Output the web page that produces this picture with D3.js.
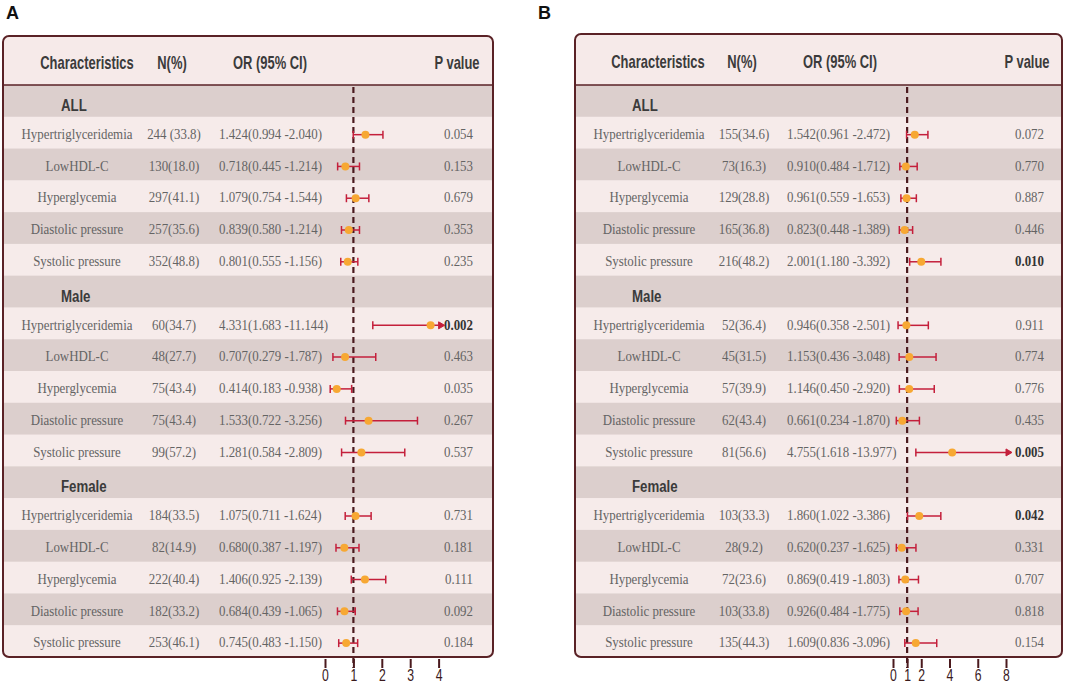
<!DOCTYPE html>
<html>
<head>
<meta charset="utf-8">
<title>Forest plots A and B</title>
<script src="https://cdn.jsdelivr.net/npm/d3@7"></script>
<style>
  body { margin: 0; background: #fff; }
  .hdr, .grp, .tick text, .panel-tag {
    font-family: "Liberation Sans", Arial, sans-serif;
    font-weight: bold;
  }
  .hdr { font-size: 17.5px; fill: #3b3b3b; }
  .grp { font-size: 17px; fill: #3b3b3b; }
  .cell { font-family: "Liberation Serif", "DejaVu Serif", serif; font-size: 15px; fill: #646464; }
  .cell.sig { font-weight: bold; fill: #333; }
  .panel-tag { font-size: 18px; fill: #111; }
  .tick text { font-size: 17px; font-weight: normal; fill: #3a1a1c; }
</style>
</head>
<body>
<svg id="chart" width="1065" height="683"></svg>
<script>
// shared row structure
var groups = ['ALL', 'Male', 'Female'];
var items = ['Hypertriglyceridemia', 'LowHDL-C', 'Hyperglycemia', 'Diastolic pressure', 'Systolic pressure'];
var headers = ['Characteristics', 'N(%)', 'OR (95% CI)', 'P value'];

// panel A
var nA = ['244 (33.8)', '130(18.0)', '297(41.1)', '257(35.6)', '352(48.8)',
          '60(34.7)', '48(27.7)', '75(43.4)', '75(43.4)', '99(57.2)',
          '184(33.5)', '82(14.9)', '222(40.4)', '182(33.2)', '253(46.1)'];
var orA = [1.424, 0.718, 1.079, 0.839, 0.801, 4.331, 0.707, 0.414, 1.533, 1.281, 1.075, 0.680, 1.406, 0.684, 0.745];
var loA = [0.994, 0.445, 0.754, 0.580, 0.555, 1.683, 0.279, 0.183, 0.722, 0.584, 0.711, 0.387, 0.925, 0.439, 0.483];
var hiA = [2.040, 1.214, 1.544, 1.214, 1.156, 11.144, 1.787, 0.938, 3.256, 2.809, 1.624, 1.197, 2.139, 1.065, 1.150];
var pA = ['0.054', '0.153', '0.679', '0.353', '0.235', '0.002', '0.463', '0.035', '0.267', '0.537',
          '0.731', '0.181', '0.111', '0.092', '0.184'];
var boldA = [5];
var ticksA = [0, 1, 2, 3, 4];

// panel B
var nB = ['155(34.6)', '73(16.3)', '129(28.8)', '165(36.8)', '216(48.2)',
          '52(36.4)', '45(31.5)', '57(39.9)', '62(43.4)', '81(56.6)',
          '103(33.3)', '28(9.2)', '72(23.6)', '103(33.8)', '135(44.3)'];
var orB = [1.542, 0.910, 0.961, 0.823, 2.001, 0.946, 1.153, 1.146, 0.661, 4.755, 1.860, 0.620, 0.869, 0.926, 1.609];
var loB = [0.961, 0.484, 0.559, 0.448, 1.180, 0.358, 0.436, 0.450, 0.234, 1.618, 1.022, 0.237, 0.419, 0.484, 0.836];
var hiB = [2.472, 1.712, 1.653, 1.389, 3.392, 2.501, 3.048, 2.920, 1.870, 13.977, 3.386, 1.625, 1.803, 1.775, 3.096];
var pB = ['0.072', '0.770', '0.887', '0.446', '0.010', '0.911', '0.774', '0.776', '0.435', '0.005',
          '0.042', '0.331', '0.707', '0.818', '0.154'];
var boldB = [4, 9, 10];
var ticksB = [0, 1, 2, 4, 6, 8];

var svg = d3.select('#chart');

var colors = {
	border: '#5a2226',
	header: '#f6eae9',
	light: '#f6ebea',
	dark: '#dccfcd',
	ci: '#c41f3b',
	dot: '#f7a833',
	ref: '#4a1a1e'
};

function fmt(v) { return v.toFixed(3); }

// narrow the fonts horizontally, the original uses condensed faces
function squeeze(sel, x, y, sx) {
	sel.attr('x', 0).attr('y', 0)
		.attr('transform', function(d, i) {
			var xx = typeof x === 'function' ? x(d, i) : x;
			return 'translate(' + xx + ',' + y + ') scale(' + sx + ',1)';
		});
}

function drawPanel(p) {
	var g = svg.append('g');

	// rows: group heading followed by its five items
	var rows = [];
	var k = 0;
	groups.forEach(function(grp) {
		rows.push({ type: 'group', label: grp });
		items.forEach(function(it) {
			rows.push({
				type: 'item', label: it, n: p.n[k], or: p.or[k], lo: p.lo[k], hi: p.hi[k],
				p: p.p[k], sig: p.bold.indexOf(k) >= 0
			});
			k++;
		});
	});

	var y = d3.scaleBand().domain(d3.range(rows.length)).range([p.headBottom, p.bottom]);
	var x = d3.scaleLinear().domain(p.domain).range(p.range);

	var clipId = 'clip-' + p.tag;
	g.append('clipPath').attr('id', clipId)
		.append('rect')
		.attr('x', p.left).attr('y', p.top)
		.attr('width', p.right - p.left).attr('height', p.bottom - p.top)
		.attr('rx', 6);

	var bg = g.append('g').attr('clip-path', 'url(#' + clipId + ')');
	bg.append('rect')
		.attr('x', p.left).attr('y', p.top)
		.attr('width', p.right - p.left).attr('height', p.headBottom - p.top)
		.attr('fill', colors.header);
	bg.selectAll('rect.row')
		.data(rows)
		.enter()
		.append('rect')
		.attr('class', 'row')
		.attr('x', p.left)
		.attr('y', function(d, i) { return y(i); })
		.attr('width', p.right - p.left)
		.attr('height', y.bandwidth() + 0.5)
		.attr('fill', function(d, i) { return i % 2 === 0 ? colors.dark : colors.light; });

	// header
	g.selectAll('text.hdr')
		.data(headers)
		.enter()
		.append('text')
		.attr('class', 'hdr')
		.attr('dy', '0.35em')
		.attr('text-anchor', 'middle')
		.text(function(d) { return d; })
		.call(squeeze, function(d, i) { return p.headX[i]; }, (p.top + p.headBottom) / 2 + 2, 0.74);

	g.append('line')
		.attr('x1', p.left).attr('x2', p.right)
		.attr('y1', p.headBottom).attr('y2', p.headBottom)
		.attr('stroke', colors.border).attr('stroke-width', 1.5);

	// reference line at OR = 1
	g.append('line')
		.attr('x1', x(1)).attr('x2', x(1))
		.attr('y1', p.headBottom + 2).attr('y2', p.axisY + 9)
		.attr('stroke', colors.ref).attr('stroke-width', 2.2)
		.attr('stroke-dasharray', '6,4');

	var rowG = g.selectAll('g.r')
		.data(rows)
		.enter()
		.append('g')
		.attr('class', 'r')
		.attr('transform', function(d, i) { return 'translate(0,' + (y(i) + y.bandwidth() / 2) + ')'; });

	rowG.filter(function(d) { return d.type === 'group'; })
		.append('text')
		.attr('class', 'grp')
		.attr('dy', '0.35em')
		.text(function(d) { return d.label; })
		.call(squeeze, p.groupX, 4, 0.78);

	var it = rowG.filter(function(d) { return d.type === 'item'; });

	it.append('text')
		.attr('class', 'cell')
		.attr('dy', '0.35em')
		.attr('text-anchor', 'middle')
		.text(function(d) { return d.label; })
		.call(squeeze, p.colX[0], 1, 0.86);
	it.append('text')
		.attr('class', 'cell')
		.attr('dy', '0.35em')
		.attr('text-anchor', 'middle')
		.text(function(d) { return d.n; })
		.call(squeeze, p.colX[1], 1, 0.86);
	it.append('text')
		.attr('class', 'cell')
		.attr('dy', '0.35em')
		.text(function(d) { return fmt(d.or) + '(' + fmt(d.lo) + ' -' + fmt(d.hi) + ')'; })
		.call(squeeze, p.colX[2], 1, 0.86);
	it.append('text')
		.attr('class', function(d) { return d.sig ? 'cell sig' : 'cell'; })
		.attr('dy', '0.35em')
		.attr('text-anchor', 'end')
		.text(function(d) { return d.p; })
		.call(squeeze, p.colX[3], 1, 0.86);

	// confidence intervals, clamped at the end of the axis
	var cx = x.copy().clamp(true);
	var over = function(d) { return d.hi > p.domain[1]; };

	it.append('line')
		.attr('x1', function(d) { return cx(d.lo); })
		.attr('x2', function(d) { return cx(d.hi); })
		.attr('y1', 2).attr('y2', 2)
		.attr('stroke', colors.ci).attr('stroke-width', 1.5);
	it.append('line')
		.attr('x1', function(d) { return cx(d.lo); })
		.attr('x2', function(d) { return cx(d.lo); })
		.attr('y1', -2).attr('y2', 6)
		.attr('stroke', colors.ci).attr('stroke-width', 1.5);
	it.filter(function(d) { return !over(d); })
		.append('line')
		.attr('x1', function(d) { return cx(d.hi); })
		.attr('x2', function(d) { return cx(d.hi); })
		.attr('y1', -2).attr('y2', 6)
		.attr('stroke', colors.ci).attr('stroke-width', 1.5);
	it.filter(over)
		.append('path')
		.attr('d', function(d) {
			var e = cx(d.hi) + 6;
			return 'M' + (e - 6) + ',-1.5L' + e + ',2L' + (e - 6) + ',5.5Z';
		})
		.attr('fill', colors.ci)
		.attr('stroke', colors.ci).attr('stroke-width', 1);

	it.append('circle')
		.attr('cx', function(d) { return over(d) ? cx(d.or) - 8 : cx(d.or); })
		.attr('cy', 2)
		.attr('r', 4)
		.attr('fill', colors.dot);

	// outline
	g.append('rect')
		.attr('x', p.left).attr('y', p.top)
		.attr('width', p.right - p.left).attr('height', p.bottom - p.top)
		.attr('rx', 6)
		.attr('fill', 'none')
		.attr('stroke', colors.border).attr('stroke-width', 2);

	// axis
	var axis = d3.axisBottom(x).tickValues(p.ticks).tickSize(9).tickPadding(1).tickFormat(d3.format('d'));
	var ax = g.append('g')
		.attr('transform', 'translate(0,' + p.axisY + ')')
		.call(axis);
	ax.select('.domain').remove();
	ax.selectAll('.tick line').attr('stroke', colors.ref).attr('stroke-width', 2);
	ax.selectAll('.tick text')
		.attr('dy', null)
		.each(function() {
			d3.select(this).attr('transform', 'translate(0,22) scale(0.72,1)').attr('y', 0);
		});

	g.append('text')
		.attr('class', 'panel-tag')
		.attr('x', p.tagX).attr('y', 19)
		.text(p.tag);
}

drawPanel({
	tag: 'A', tagX: 6,
	left: 3, right: 493, top: 36, headBottom: 85, bottom: 657,
	headX: [87, 172, 270, 457],
	colX: [77, 174, 219, 473],
	groupX: 61,
	domain: [0, 4], range: [325, 438.6],
	ticks: ticksA, axisY: 659,
	n: nA, or: orA, lo: loA, hi: hiA, p: pA, bold: boldA
});

drawPanel({
	tag: 'B', tagX: 538,
	left: 575, right: 1062, top: 34, headBottom: 85, bottom: 657,
	headX: [658, 742, 840, 1027],
	colX: [649, 744, 787, 1044],
	groupX: 632,
	domain: [0, 8], range: [893, 1006],
	ticks: ticksB, axisY: 659,
	n: nB, or: orB, lo: loB, hi: hiB, p: pB, bold: boldB
});
</script>
</body>
</html>
